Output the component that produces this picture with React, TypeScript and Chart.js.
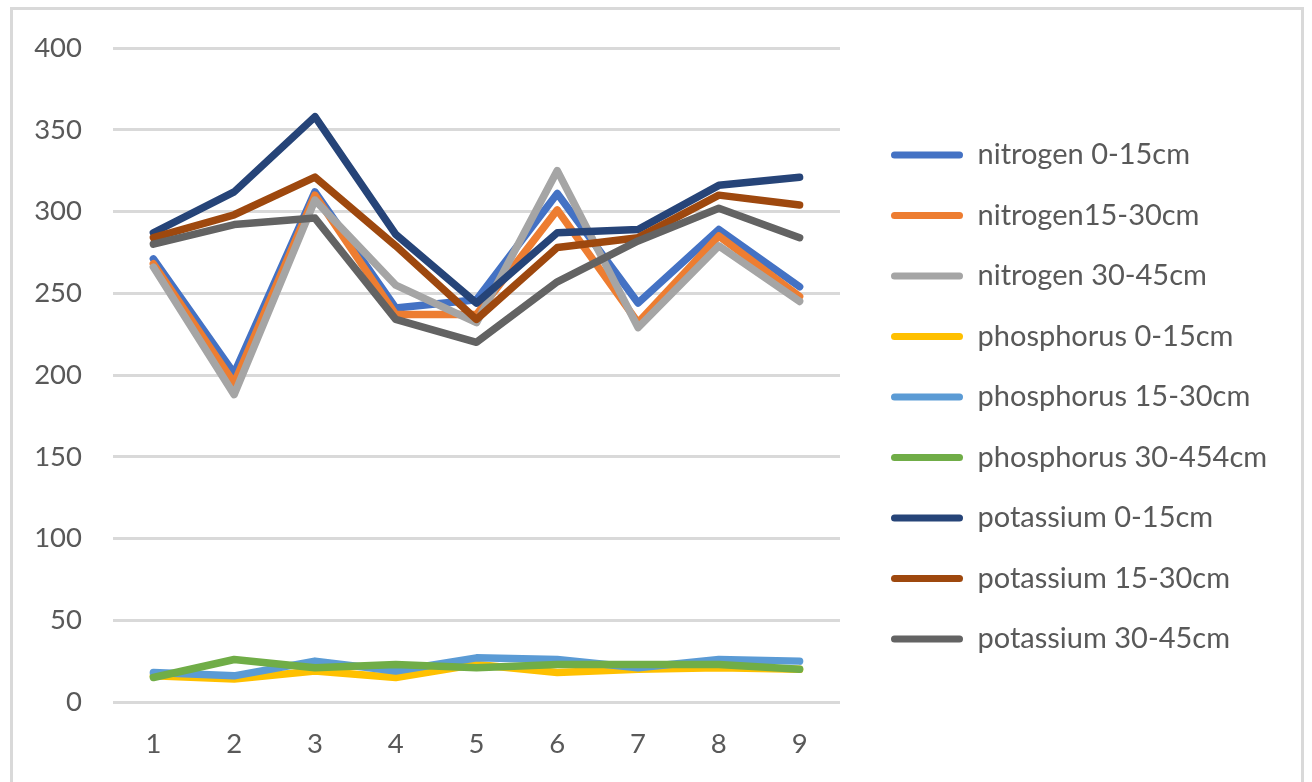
import React, { useEffect, useRef } from 'react';
import { Chart, registerables } from 'chart.js';

Chart.register(...registerables);

const categories = ['1', '2', '3', '4', '5', '6', '7', '8', '9'];

const seriesNames = [
  'nitrogen 0-15cm',
  'nitrogen15-30cm',
  'nitrogen 30-45cm',
  'phosphorus 0-15cm',
  'phosphorus 15-30cm',
  'phosphorus 30-454cm',
  'potassium 0-15cm',
  'potassium 15-30cm',
  'potassium 30-45cm',
];

const nitrogen0_15 = [271, 201, 312, 241, 246, 311, 244, 289, 254];
const nitrogen15_30 = [268, 195, 310, 237, 237, 301, 232, 285, 248];
const nitrogen30_45 = [266, 188, 307, 255, 232, 325, 229, 279, 245];
const phosphorus0_15 = [16, 14, 19, 15, 23, 18, 20, 21, 20];
const phosphorus15_30 = [18, 16, 25, 19, 27, 26, 21, 26, 25];
const phosphorus30_45 = [15, 26, 21, 23, 21, 23, 23, 23, 20];
const potassium0_15 = [287, 312, 358, 286, 244, 287, 289, 316, 321];
const potassium15_30 = [284, 298, 321, 279, 234, 278, 284, 310, 304];
const potassium30_45 = [280, 292, 296, 234, 220, 257, 282, 302, 284];

const seriesValues = [
  nitrogen0_15,
  nitrogen15_30,
  nitrogen30_45,
  phosphorus0_15,
  phosphorus15_30,
  phosphorus30_45,
  potassium0_15,
  potassium15_30,
  potassium30_45,
];

const seriesColors = [
  '#4472C4',
  '#ED7D31',
  '#A5A5A5',
  '#FFC000',
  '#5B9BD5',
  '#70AD47',
  '#264478',
  '#9E480E',
  '#636363',
];

const yMin = 0;
const yMax = 400;
const yStep = 50;

const TEXT = '#595959';
const GRID = '#d9d9d9';
const FONT = 'Lato';
const TICK_SIZE = 27.5;
const LEGEND_SIZE = 29;

const legendPlacement = {
  id: 'legendPlacement',
  beforeLayout(chart: any) {
    const lg = chart.legend;
    if (lg && !lg.__patched) {
      const orig = lg.fit.bind(lg);
      lg.fit = () => {
        orig();
        lg.width = 472;
      };
      lg.__patched = true;
    }
  },
  afterLayout(chart: any) {
    const lg = chart.legend;
    if (lg) {
      lg.left += 19.5;
      lg.right += 19.5;
      lg.top -= 18;
      lg.bottom -= 18;
    }
  },
};

export default function App() {
  const canvasRef = useRef<HTMLCanvasElement | null>(null);

  useEffect(() => {
    const canvas = canvasRef.current;
    if (!canvas) return;
    const datasets = seriesValues.map((values, i) => ({
      label: seriesNames[i],
      data: values,
      borderColor: seriesColors[i],
      backgroundColor: seriesColors[i],
      borderWidth: 7.5,
      pointRadius: 0,
      pointHoverRadius: 0,
      tension: 0,
      fill: false,
      borderCapStyle: 'round' as const,
      borderJoinStyle: 'round' as const,
      order: seriesValues.length - i,
    }));

    const chart = new Chart(canvas, {
      type: 'line',
      data: { labels: categories, datasets },
      options: {
        animation: false,
        responsive: false,
        maintainAspectRatio: false,
        layout: { padding: { top: 48, bottom: 0, left: 0, right: 0 } },
        scales: {
          x: {
            offset: true,
            grid: { display: false, drawTicks: false },
            border: { display: false },
            ticks: {
              color: TEXT,
              font: { family: FONT, size: TICK_SIZE },
              padding: 26,
            },
            afterFit: (s: any) => {
              s.height = 80;
            },
          },
          y: {
            min: yMin,
            max: yMax,
            ticks: {
              stepSize: yStep,
              color: TEXT,
              font: { family: FONT, size: TICK_SIZE },
              padding: 31,
            },
            grid: { color: GRID, lineWidth: 3, drawTicks: false },
            border: { display: false },
            afterFit: (s: any) => {
              s.width = 113;
            },
          },
        },
        plugins: {
          tooltip: { enabled: false },
          legend: {
            position: 'right',
            labels: {
              boxWidth: 72,
              boxHeight: 7,
              padding: 31.5,
              color: TEXT,
              font: { family: FONT, size: LEGEND_SIZE },
              generateLabels: (c: any) =>
                c.data.datasets.map((ds: any, i: number) => ({
                  text: ds.label,
                  fillStyle: ds.borderColor,
                  strokeStyle: ds.borderColor,
                  lineWidth: 0,
                  hidden: false,
                  datasetIndex: i,
                  borderRadius: 3.5,
                  fontColor: TEXT,
                })),
            },
          },
        },
      },
      plugins: [legendPlacement],
    });
    return () => chart.destroy();
  }, []);

  return (
    <div
      style={{
        position: 'fixed',
        left: 0,
        top: 0,
        width: 1312,
        height: 782,
        background: '#ffffff',
        overflow: 'hidden',
      }}
    >
      <div
        style={{
          position: 'absolute',
          left: 10,
          top: 7,
          width: 1294,
          height: 800,
          boxSizing: 'border-box',
          border: `3px solid ${GRID}`,
        }}
      />
      <canvas
        ref={canvasRef}
        width={1312}
        height={782}
        style={{ position: 'absolute', left: 0, top: 0, width: 1312, height: 782 }}
      />
    </div>
  );
}
